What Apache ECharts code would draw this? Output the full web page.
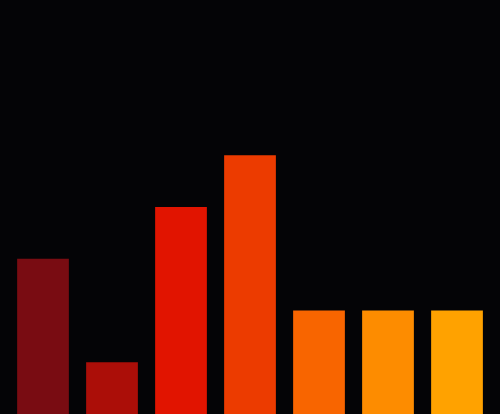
<!DOCTYPE html>
<html><head><meta charset="utf-8">
<script src="https://cdn.jsdelivr.net/npm/echarts@6/dist/echarts.min.js"></script>
<style>html,body{margin:0;padding:0;background:#040406;}#c{width:500px;height:414px;}</style>
</head><body><div id="c"></div>
<script>
var categories = ['A','B','C','D','E','F','G'];
var values = [3, 1, 4, 5, 2, 2, 2];
var colors = ['#790c12','#ab0e08','#e11400','#ec3b00','#f86500','#fd8c00','#ffa200'];
var chart = echarts.init(document.getElementById('c'));
chart.setOption({
  backgroundColor: '#040406',
  animation: false,
  grid: {left: 8.5, right: 8.5, top: 0, bottom: 0},
  xAxis: {type: 'category', data: categories, show: false},
  yAxis: {type: 'value', min: 0, max: 8, show: false},
  series: [{
    type: 'bar',
    barCategoryGap: '25%',
    data: values.map(function(v, i){ return {value: v, itemStyle: {color: colors[i]}}; })
  }]
});
</script></body></html>
